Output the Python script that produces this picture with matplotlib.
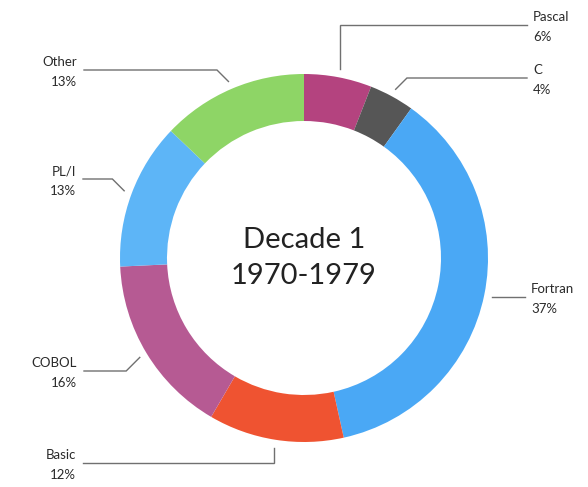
import numpy as np
import matplotlib
matplotlib.use("Agg")
import matplotlib.pyplot as plt

# Language share, 1970-1979 (clockwise from 12 o'clock)
languages = ["Pascal", "C", "Fortran", "Basic", "COBOL", "PL/I", "Other"]
shares = [6, 4, 37, 12, 16, 13, 13]
colors = ["#B4437F", "#565656", "#4AA8F5", "#EF5331", "#B65A93", "#5DB5F7", "#8ED566"]

W, H = 588, 487
fig = plt.figure(figsize=(W / 100, H / 100), dpi=100)
ax = fig.add_axes([0, 0, 1, 1])
ax.set_xlim(0, W)
ax.set_ylim(0, H)
ax.set_aspect("equal")
ax.axis("off")

cx, cy = 304, H - 258
R = 184
ring = 47

wedges, _ = ax.pie(shares, colors=colors, startangle=90, counterclock=False,
                   center=(cx, cy), radius=R,
                   wedgeprops=dict(width=ring, linewidth=0))
ax.set_xlim(0, W)
ax.set_ylim(0, H)

ax.text(cx, H - 240, "Decade 1", ha="center", va="center",
        fontsize=21, family="Lato", color="#222222")
ax.text(cx, H - 276, "1970-1979", ha="center", va="center",
        fontsize=21, family="Lato", color="#222222")

# label layout: side, leader line level (px from top), label x, leader style
layout = {
    "Pascal":  ("right", 25, 527, "vertical"),
    "C":       ("right", 78, 527, "diagonal"),
    "Fortran": ("right", 297, 525, "straight"),
    "Basic":   ("left", 463, 83, "vertical"),
    "COBOL":   ("left", 371, 84, "diagonal"),
    "PL/I":    ("left", 179, 83, "diagonal"),
    "Other":   ("left", 70, 84, "diagonal"),
}

total = sum(shares)
cum = 0
r_anchor = R + 8
for name, val in zip(languages, shares):
    mid = (cum + val / 2) / total * 2 * np.pi
    cum += val
    sx = cx + r_anchor * np.sin(mid)
    sy = cy + r_anchor * np.cos(mid)
    side, level, lx, style = layout[name]
    ly = H - level
    if style == "vertical":
        pts = [(sx, sy), (sx, ly), (lx, ly)]
    elif style == "diagonal":
        d = abs(sy - ly)
        ex = sx + d if side == "right" else sx - d
        pts = [(sx, sy), (ex, ly), (lx, ly)]
    else:
        pts = [(sx, ly), (lx, ly)]
    xs, ys = zip(*pts)
    ax.plot(xs, ys, color="#707070", lw=1.0, solid_joinstyle="miter")
    pct = f"{val}%"
    if side == "right":
        tx, ha = lx + 6, "left"
    else:
        tx, ha = lx - 7, "right"
    ax.text(tx, ly + 8, name, ha=ha, va="center", fontsize=9.5,
            family="Lato", color="#2a2a2a")
    ax.text(tx, ly - 12, pct, ha=ha, va="center", fontsize=9.5,
            family="Lato", color="#2a2a2a")

fig.savefig("out.png", dpi=100, facecolor="white")
